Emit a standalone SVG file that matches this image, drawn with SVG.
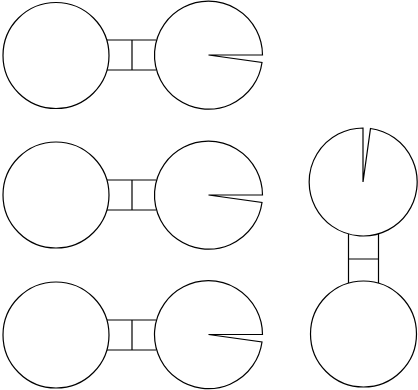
<svg xmlns="http://www.w3.org/2000/svg" width="418" height="390" viewBox="0 0 418 390">
<style>
.s{fill:none;stroke:#000;stroke-width:1.2}
.w{fill:#fff;stroke:#000;stroke-width:1.2}
</style>
<rect width="418" height="390" fill="#fff"/>
<g id="connectors">
<path class="s" d="M107,40 H156 M107,70 H156 M132,40 V70"/>
<path class="s" d="M107,180 H156 M107,210 H156 M132,180 V210"/>
<path class="s" d="M107,320 H156 M107,350 H156 M132,320 V350"/>
<path class="s" d="M348.5,234 V283 M378.5,234 V283 M348.5,259 H378.5"/>
</g>
<g id="a1"><circle class="w" cx="56" cy="55.5" r="53"/></g>
<g id="b1"><path class="w" d="M208.5,55 L262.5,55 A54 54 0 1 0 262,62.5 Z"/></g>
<g id="a2"><circle class="w" cx="56" cy="195" r="53"/></g>
<g id="b2"><path class="w" d="M208.5,195 L262.5,195 A54 54 0 1 0 262,202.5 Z"/></g>
<g id="a3"><circle class="w" cx="56" cy="335" r="53"/></g>
<g id="b3"><path class="w" d="M208.5,334.5 L262.5,334.5 A54 54 0 1 0 262,342 Z"/></g>
<g id="c1"><path class="w" d="M363,182 L363,128 A54 54 0 1 0 370.5,128.5 Z"/></g>
<g id="c2"><circle class="w" cx="363.5" cy="334" r="53"/></g>
</svg>
